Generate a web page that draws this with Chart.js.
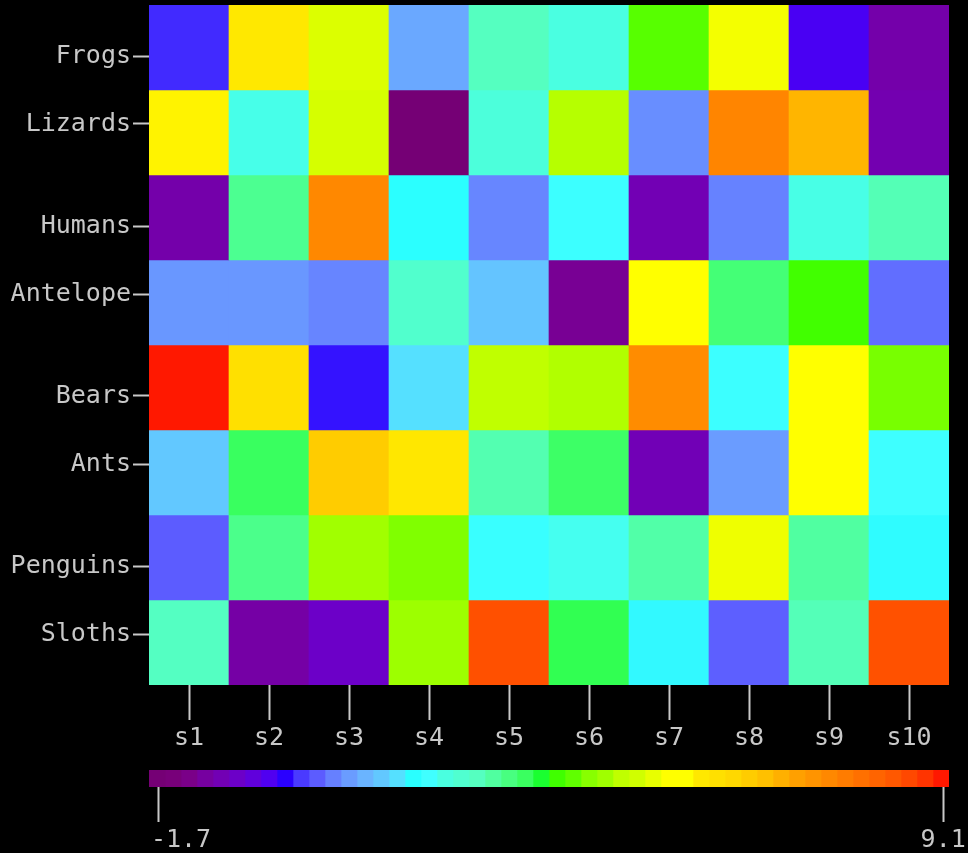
<!DOCTYPE html>
<html>
<head>
<meta charset="utf-8">
<script src="https://cdn.jsdelivr.net/npm/chart.js@4"></script>
<style>
  html, body { margin: 0; padding: 0; background: #000; }
  #wrap { position: relative; width: 968px; height: 853px; background: #000; }
  #heat { position: absolute; left: 0; top: 0; }
  #cbar { position: absolute; left: 0; top: 760px; }
</style>
</head>
<body>
<div id="wrap">
  <canvas id="heat" width="968" height="760"></canvas>
  <canvas id="cbar" width="968" height="93"></canvas>
</div>
<script>
// data
const samples = ['s1', 's2', 's3', 's4', 's5', 's6', 's7', 's8', 's9', 's10'];
const animals = ['Frogs', 'Lizards', 'Humans', 'Antelope', 'Bears', 'Ants', 'Penguins', 'Sloths'];

const frogs    = [0.20, 5.77, 5.00, 1.03, 2.68, 2.24, 3.94, 5.22, -0.14, -0.95];
const lizards  = [5.66, 2.18, 4.93, -1.70, 2.31, 4.60, 0.81, 7.59, 6.80, -0.88];
const humans   = [-0.95, 3.01, 7.53, 1.80, 0.75, 1.98, -0.84, 0.72, 2.20, 2.75];
const antelope = [0.88, 0.88, 0.74, 2.51, 1.32, -1.17, 5.44, 3.19, 3.79, 0.59];
const bears    = [9.10, 5.99, 0.11, 1.58, 4.67, 4.56, 7.46, 1.98, 5.40, 4.14];
const ants     = [1.36, 3.35, 6.43, 5.80, 2.79, 3.30, -0.82, 0.92, 5.50, 2.00];
const penguins = [0.48, 3.05, 4.45, 4.18, 1.95, 2.13, 2.85, 5.17, 2.90, 1.78];
const sloths   = [2.65, -1.00, -0.62, 4.42, 8.52, 3.41, 1.76, 0.50, 2.74, 8.50];

const cbarTicks = [-1.7, 9.1];

const rows = [frogs, lizards, humans, antelope, bears, ants, penguins, sloths];

// colour scale
const vmin = -1.83, vmax = 9.18;
const binColors = [
  '#750075', '#78007a', '#7a0088', '#7600a0', '#7200b4', '#6c00c8', '#6000dc', '#5000f0', '#2a00ff', '#4a3aff',
  '#5c5cff', '#6680ff', '#6a9cff', '#6ab4ff', '#62c8ff', '#55e0ff', '#2affff', '#40ffff', '#4affe0', '#50ffd0',
  '#55ffc0', '#50ffa0', '#48ff80', '#3aff60', '#1aff30', '#40ff00', '#60ff00', '#88ff00', '#a0ff00', '#c0ff00',
  '#d0ff00', '#e8ff00', '#ffff00', '#ffff00', '#ffe800', '#ffe000', '#ffd800', '#ffcc00', '#ffc000', '#ffb000',
  '#ffa000', '#ff9400', '#ff8800', '#ff7c00', '#ff7000', '#ff6400', '#ff5800', '#ff4800', '#ff3400', '#ff1800'
];
const nBins = binColors.length;
const bw = (vmax - vmin) / nBins;

function hexRgb(h) {
  return [parseInt(h.slice(1, 3), 16), parseInt(h.slice(3, 5), 16), parseInt(h.slice(5, 7), 16)];
}
function colorFor(v) {
  let t = (v - vmin) / bw - 0.5;
  t = Math.max(0, Math.min(nBins - 1, t));
  const i = Math.min(nBins - 2, Math.floor(t));
  const f = t - i;
  const a = hexRgb(binColors[i]), b = hexRgb(binColors[i + 1]);
  const c = a.map((x, k) => Math.round(x + (b[k] - x) * f));
  return 'rgb(' + c.join(',') + ')';
}

const textColor = '#c8c8c8';
const font = { family: 'DejaVu Sans Mono', size: 25 };
const rowTickPos = [0.1, 0.9, 2.1, 2.9, 4.1, 4.9, 6.1, 6.9];

function noPad(s) {
  s.paddingTop = 0; s.paddingBottom = 0; s.paddingLeft = 0; s.paddingRight = 0;
}

new Chart(document.getElementById('heat'), {
  type: 'bar',
  data: {
    labels: samples,
    datasets: rows.map((vals, r) => ({
      label: animals[r],
      data: vals.map(() => [r - 0.5, r + 0.5]),
      backgroundColor: vals.map(colorFor),
      borderWidth: 0,
      grouped: false,
      barPercentage: 1,
      categoryPercentage: 1
    }))
  },
  options: {
    responsive: false,
    animation: false,
    layout: { padding: { top: 5, right: 19, left: 0, bottom: 0 } },
    plugins: { legend: { display: false }, tooltip: { enabled: false } },
    scales: {
      x: {
        type: 'category',
        border: { display: false },
        grid: { offset: false, drawOnChartArea: false, drawTicks: true, tickLength: 35, tickColor: textColor, tickWidth: 2 },
        ticks: { color: textColor, font: font, padding: 3, maxRotation: 0 },
        afterFit: s => { s.height = 75; noPad(s); }
      },
      y: {
        type: 'linear',
        reverse: true,
        min: -0.5,
        max: 7.5,
        border: { display: false },
        grid: { drawOnChartArea: false, drawTicks: true, tickLength: 16, tickColor: textColor, tickWidth: 2 },
        afterBuildTicks: s => { s.ticks = rowTickPos.map(v => ({ value: v })); },
        ticks: { color: textColor, font: font, padding: 2, callback: (v, i) => animals[i] },
        afterFit: s => { s.width = 149; noPad(s); }
      }
    }
  }
});

new Chart(document.getElementById('cbar'), {
  type: 'bar',
  data: {
    labels: ['scale'],
    datasets: binColors.map((c, i) => ({
      data: [[vmin + i * bw, vmin + (i + 1) * bw]],
      backgroundColor: c,
      borderWidth: 0,
      grouped: false,
      barPercentage: 1,
      categoryPercentage: 1
    }))
  },
  options: {
    indexAxis: 'y',
    responsive: false,
    animation: false,
    layout: { padding: { top: 10, right: 19, left: 149, bottom: 0 } },
    plugins: { legend: { display: false }, tooltip: { enabled: false } },
    scales: {
      y: { display: false },
      x: {
        type: 'linear',
        min: vmin,
        max: vmax,
        border: { display: false },
        grid: { drawOnChartArea: false, drawTicks: true, tickLength: 35, tickColor: textColor, tickWidth: 2 },
        afterBuildTicks: s => { s.ticks = cbarTicks.map(v => ({ value: v })); },
        ticks: {
          color: textColor, font: font, padding: 3, maxRotation: 0,
          callback: (v, i) => (i === 0 ? '   ' : '') + v.toFixed(1)
        },
        afterFit: s => { s.height = 66; noPad(s); }
      }
    }
  }
});
</script>
</body>
</html>
